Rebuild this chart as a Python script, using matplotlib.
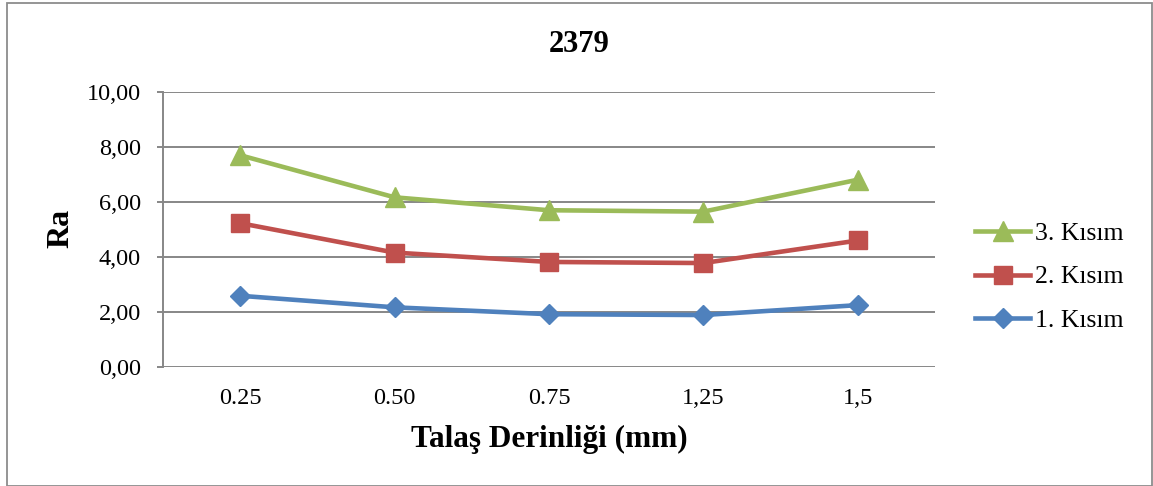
import matplotlib
matplotlib.use("Agg")
import matplotlib.pyplot as plt
from matplotlib.patches import Rectangle

categories = ["0.25", "0.50", "0.75", "1,25", "1,5"]
kisim1 = [2.59, 2.17, 1.92, 1.89, 2.25]
kisim2 = [5.23, 4.16, 3.82, 3.78, 4.60]
kisim3 = [7.70, 6.17, 5.70, 5.65, 6.81]
yticks = [0, 2, 4, 6, 8, 10]
ytick_labels = ["0,00", "2,00", "4,00", "6,00", "8,00", "10,00"]

plt.rcParams['font.family'] = ['Liberation Serif', 'DejaVu Serif']

fig = plt.figure(figsize=(11.53, 4.86), dpi=100)
W, H = 1153, 486
ax = fig.add_axes([163 / W, 1 - 367 / H, (935 - 163) / W, (367 - 92) / H])

x = list(range(len(categories)))
grid_col = "#878787"
for yv in yticks:
    ax.axhline(yv, color=grid_col, lw=1.4, zorder=1)

lw = 3.3
l1, = ax.plot(x, kisim1, color="#4F81BD", lw=lw, marker="D", markersize=10, label="1. Kısım", zorder=3)
l2, = ax.plot(x, kisim2, color="#C0504D", lw=lw, marker="s", markersize=12.5, label="2. Kısım", zorder=3)
l3, = ax.plot(x, kisim3, color="#9BBB59", lw=lw, marker="^", markersize=14, label="3. Kısım", zorder=3)

ax.set_xlim(-0.5, 4.5)
ax.set_ylim(0, 10)
ax.set_yticks(yticks)
ax.set_yticklabels(ytick_labels, fontsize=17.5)
ax.set_xticks(x)
ax.set_xticklabels(categories, fontsize=17.5)
ax.tick_params(axis='y', length=4, color=grid_col, width=1.4, pad=12)
ax.tick_params(axis='x', length=0, pad=15)
for s in ["top", "right", "bottom"]:
    ax.spines[s].set_visible(False)
ax.spines["left"].set_color(grid_col)
ax.spines["left"].set_linewidth(1.4)

ax.set_ylabel("Ra", fontsize=23, fontweight="bold", va="center", ha="center")
ax.yaxis.set_label_coords((61 - 163) / 772, (367 - 228) / 275)
ax.set_xlabel("Talaş Derinliği (mm)", fontsize=22.5, fontweight="bold", va="center", ha="center")
ax.xaxis.set_label_coords(0.5, (367 - 439) / 275)
fig.text(579 / W, 1 - 44 / H, "2379", ha="center", va="center", fontsize=22, fontweight="bold")

leg = fig.legend(handles=[l3, l2, l1], loc="center left", bbox_to_anchor=(975 / W, 1 - 277 / H),
                 frameon=False, fontsize=18.5, handlelength=2.15, handletextpad=0.2,
                 labelspacing=0.78, borderpad=0, borderaxespad=0)

fig.patches.append(Rectangle((6.5 / W, 0.5 / H), 1145 / W, 482.5 / H, transform=fig.transFigure,
                             fill=False, edgecolor="#8c8c8c", lw=1.3))

fig.savefig("out.png", dpi=100)
